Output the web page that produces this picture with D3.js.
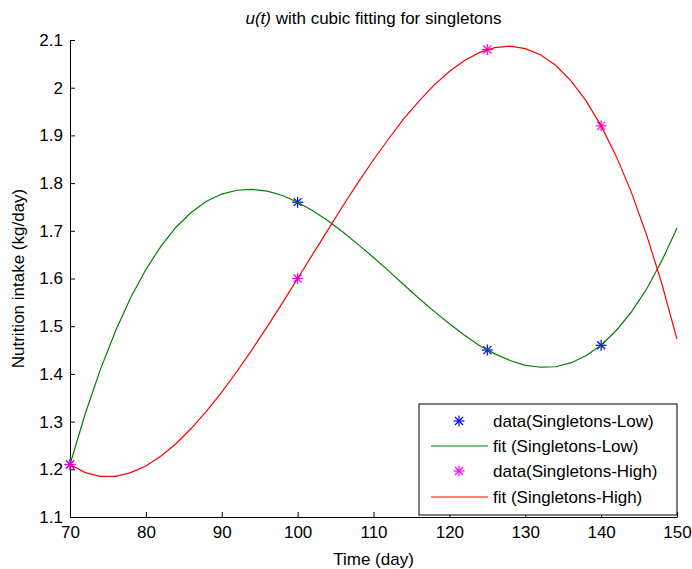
<!DOCTYPE html>
<html>
<head>
<meta charset="utf-8">
<script src="https://cdn.jsdelivr.net/npm/d3@7"></script>
<style>
  body { margin: 0; background: #fff; }
  text { font-family: "Liberation Sans", Arial, sans-serif; }
</style>
</head>
<body>
<div id="chart"></div>
<script>
// measured points
let lowDays = [70, 100, 125, 140]
let lowValues = [1.21, 1.76, 1.45, 1.46]
let highDays = [70, 100, 125, 140]
let highValues = [1.21, 1.60, 2.08, 1.92]

let fitDays = [70, 72, 74, 76, 78, 80, 82, 84, 86, 88, 90, 92, 94, 96, 98, 100,
    102, 104, 106, 108, 110, 112, 114, 116, 118, 120, 122, 124, 126, 128, 130,
    132, 134, 136, 138, 140, 142, 144, 146, 148, 150]
let fitLow = [1.210, 1.316, 1.409, 1.490, 1.560, 1.619, 1.668, 1.708, 1.739, 1.762, 1.777,
    1.785, 1.787, 1.783, 1.774, 1.760, 1.742, 1.721, 1.697, 1.671, 1.644,
    1.616, 1.587, 1.558, 1.531, 1.505, 1.481, 1.459, 1.442, 1.428, 1.418,
    1.414, 1.415, 1.423, 1.438, 1.460, 1.491, 1.530, 1.578, 1.637, 1.706]
let fitHigh = [1.210, 1.193, 1.185, 1.185, 1.193, 1.207, 1.228, 1.254, 1.286, 1.322, 1.362,
    1.405, 1.451, 1.499, 1.549, 1.600, 1.651, 1.702, 1.753, 1.802, 1.849,
    1.893, 1.935, 1.972, 2.006, 2.034, 2.057, 2.074, 2.084, 2.087, 2.082,
    2.069, 2.047, 2.015, 1.973, 1.920, 1.856, 1.780, 1.691, 1.589, 1.473]

let xTicks = [70, 80, 90, 100, 110, 120, 130, 140, 150]
let yTicks = [1.1, 1.2, 1.3, 1.4, 1.5, 1.6, 1.7, 1.8, 1.9, 2, 2.1]

let legendLabels = ["data(Singletons-Low)", "fit (Singletons-Low)",
    "data(Singletons-High)", "fit (Singletons-High)"]

let width = 692, height = 569
let plot = { left: 70, right: 677, top: 40, bottom: 517 }
let fontSize = 17

let svg = d3.select("#chart")
    .append("svg")
    .attr("width", width)
    .attr("height", height)

let x = d3.scaleLinear().domain([70, 150]).range([plot.left, plot.right])
let y = d3.scaleLinear().domain([1.1, 2.1]).range([plot.bottom, plot.top])

// axes, MATLAB style with inward ticks
svg.append("g")
    .attr("transform", "translate(0," + plot.bottom + ")")
    .call(d3.axisBottom(x).tickValues(xTicks).tickFormat(d3.format("d"))
        .tickSize(-5).tickPadding(9).tickSizeOuter(0))
svg.append("g")
    .attr("transform", "translate(" + plot.left + ",0)")
    .call(d3.axisLeft(y).tickValues(yTicks).tickFormat(d => String(d))
        .tickSize(-5).tickPadding(7).tickSizeOuter(0))

svg.selectAll(".domain").attr("stroke", "#000")
svg.selectAll(".tick line").attr("stroke", "#000")
svg.selectAll(".tick text")
    .attr("font-size", fontSize)
    .attr("fill", "#000")
    .attr("font-family", "'Liberation Sans', Arial, sans-serif")

// title and labels
let title = svg.append("text")
    .attr("x", (plot.left + plot.right) / 2)
    .attr("y", 24)
    .attr("text-anchor", "middle")
    .attr("font-size", fontSize)
title.append("tspan").attr("font-style", "italic").text("u(t)")
title.append("tspan").text(" with cubic fitting for singletons")

svg.append("text")
    .attr("x", (plot.left + plot.right) / 2)
    .attr("y", 565)
    .attr("text-anchor", "middle")
    .attr("font-size", fontSize)
    .text("Time (day)")

svg.append("text")
    .attr("transform", "translate(24," + (plot.top + plot.bottom) / 2 + ") rotate(-90)")
    .attr("text-anchor", "middle")
    .attr("font-size", fontSize)
    .text("Nutrition intake (kg/day)")

// asterisk marker
function star(g, cx, cy, color) {
    let r = 5.5, d = 4
    let s = g.append("g").attr("stroke", color).attr("stroke-width", 1.2)
    s.append("line").attr("x1", cx - r).attr("y1", cy).attr("x2", cx + r).attr("y2", cy)
    s.append("line").attr("x1", cx).attr("y1", cy - r).attr("x2", cx).attr("y2", cy + r)
    s.append("line").attr("x1", cx - d).attr("y1", cy - d).attr("x2", cx + d).attr("y2", cy + d)
    s.append("line").attr("x1", cx - d).attr("y1", cy + d).attr("x2", cx + d).attr("y2", cy - d)
}

let line = d3.line().x(d => x(d[0])).y(d => y(d[1]))

let marks = svg.append("g")

lowDays.forEach((d, i) => star(marks, x(d), y(lowValues[i]), "#0000ff"))

marks.append("path")
    .datum(fitDays.map((d, i) => [d, fitLow[i]]))
    .attr("d", line)
    .attr("fill", "none")
    .attr("stroke", "#008000")
    .attr("stroke-width", 1.2)

highDays.forEach((d, i) => star(marks, x(d), y(highValues[i]), "#ff00ff"))

marks.append("path")
    .datum(fitDays.map((d, i) => [d, fitHigh[i]]))
    .attr("d", line)
    .attr("fill", "none")
    .attr("stroke", "#ff0000")
    .attr("stroke-width", 1.2)

// legend
let legend = svg.append("g")
legend.append("rect")
    .attr("x", 419).attr("y", 404)
    .attr("width", 258).attr("height", 111)
    .attr("fill", "#fff")
    .attr("stroke", "#000")

let rowY = [421, 446, 471, 497]
legendLabels.forEach((label, i) => {
    if (i % 2 === 0) {
        star(legend, 459, rowY[i], i === 0 ? "#0000ff" : "#ff00ff")
    } else {
        legend.append("line")
            .attr("x1", 431).attr("x2", 488)
            .attr("y1", rowY[i]).attr("y2", rowY[i])
            .attr("stroke", i === 1 ? "#008000" : "#ff0000")
            .attr("stroke-width", 1.2)
    }
    legend.append("text")
        .attr("x", 493)
        .attr("y", rowY[i] + 6)
        .attr("font-size", fontSize)
        .text(label)
})
</script>
</body>
</html>
